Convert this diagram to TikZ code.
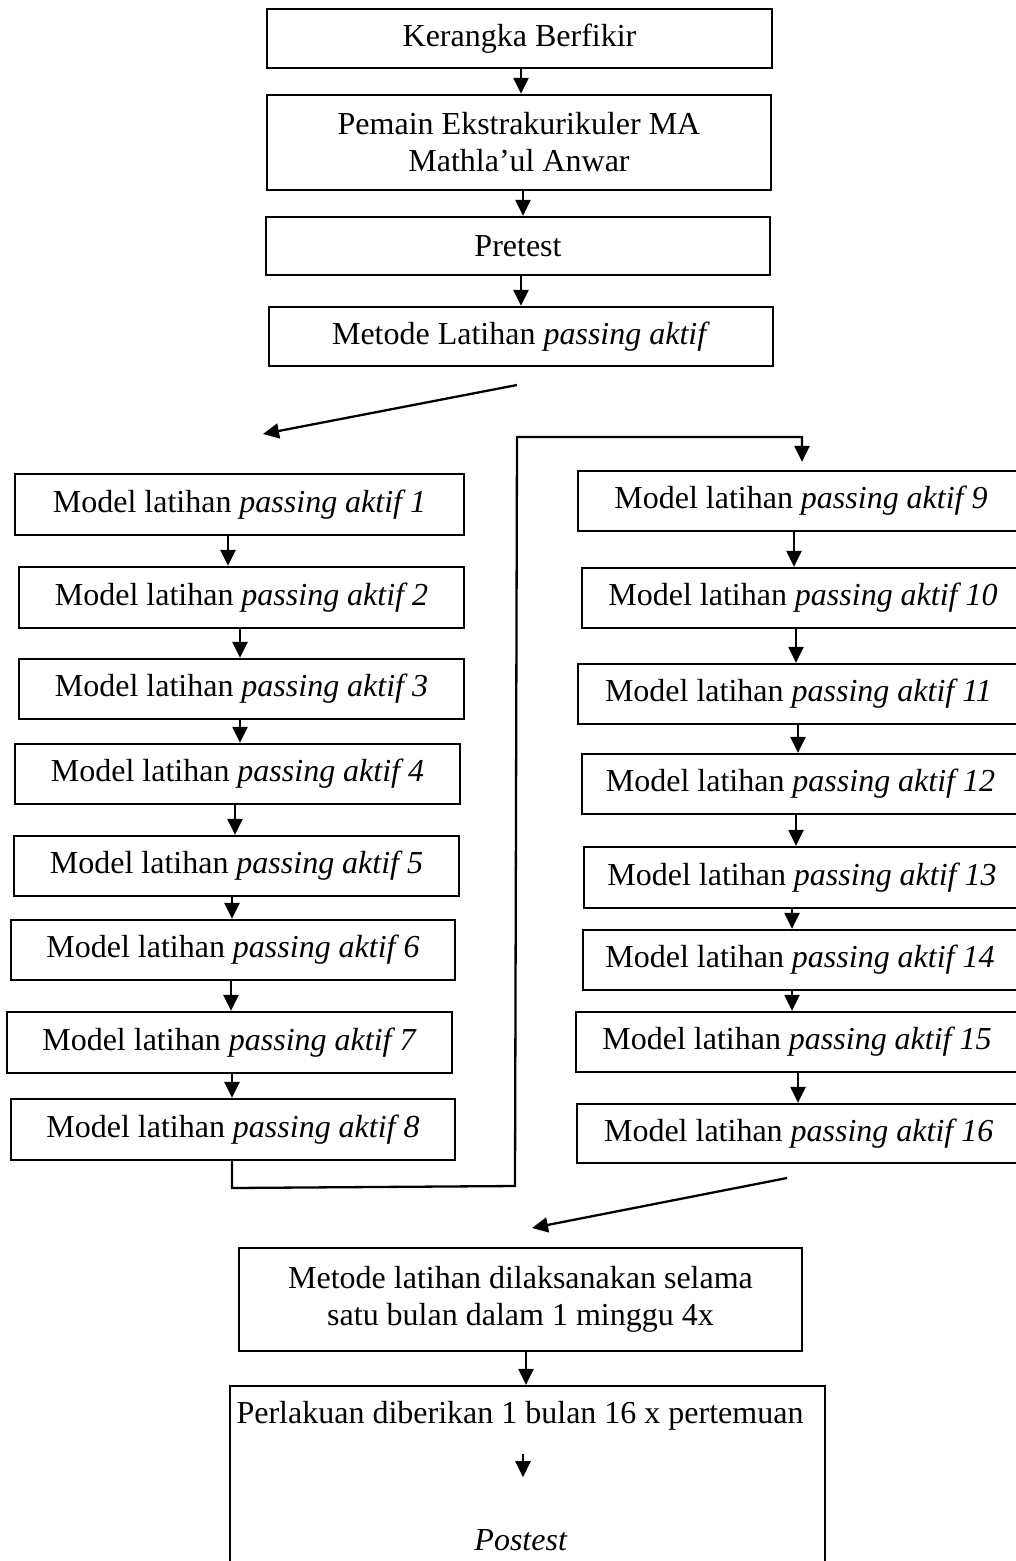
\documentclass[tikz,border=0pt]{standalone}
\usepackage{fontspec}
\setmainfont{Liberation Serif}
\usetikzlibrary{arrows.meta}

\begin{document}
\begin{tikzpicture}
[x=1pt,y=-1pt,line width=2.3pt,
 >={Triangle[length=16pt,width=15pt]},
 kotak/.style={draw,rectangle,inner sep=0pt,align=center,font=\fontsize{32}{37}\selectfont},
 teks/.style={inner sep=0pt,font=\fontsize{32}{37}\selectfont}]

\useasboundingbox (0,0) rectangle (1016,1561);
\clip (0,0) rectangle (1016,1561);

\node[kotak,minimum width=505,minimum height=59] (kerangka) at (519.5,38.5) {Kerangka Berfikir};
\node[kotak,minimum width=504,minimum height=95] (pemain) at (519,142.5) {Pemain Ekstrakurikuler MA\\Mathla’ul Anwar};
\node[kotak,minimum width=504,minimum height=58] (pretest) at (518,246) {Pretest};
\node[kotak,minimum width=504,minimum height=59] (metode) at (521,336.5) {Metode Latihan \textit{passing aktif}};

\draw[->] (kerangka.south -| 521,0) -- (pemain.north -| 521,0);
\draw[->] (pemain.south -| 523,0) -- (pretest.north -| 523,0);
\draw[->] (pretest.south -| 521,0) -- (metode.north -| 521,0);

\coordinate (kiri) at (263,434);
\coordinate (pisah) at (517,385);
\draw[->] (pisah) -- (kiri); %split

% left column
\foreach \n/\px/\py/\lb/\tg in {1/239.5/504.5/449/61, 2/241.5/597.5/445/61, 3/241.5/689/445/60,
  4/237.5/774/445/60, 5/236.5/866/445/60, 6/233/950/444/60, 7/229.5/1042.5/445/61, 8/233/1129.5/444/61}
  \node[kotak,minimum width=\lb,minimum height=\tg] (b\n) at (\px,\py) {Model latihan \textit{passing aktif \n}};

% right column
\foreach \n/\px/\py/\lb/\tg in {9/801/501/446/60, 10/803/598/442/60, 11/798.5/694/441/60, 12/800.5/784/437/60,
  13/802/877.5/436/61, 14/800/960/434/60, 15/797/1042/442/60, 16/798.7/1133.5/443/59}
  \node[kotak,minimum width=\lb,minimum height=\tg] (b\n) at (\px,\py) {Model latihan \textit{passing aktif \n}};

\foreach \a/\b/\x in {1/2/228, 2/3/240, 3/4/240, 4/5/235, 5/6/232, 6/7/231, 7/8/232,
  9/10/794, 10/11/796, 11/12/798, 12/13/796, 13/14/792, 14/15/792, 15/16/798}
  \draw[->] (b\a.south -| \x,0) -- (b\b.north -| \x,0);

\draw[->,shorten >=8pt] (b8.south -| 232,0) -- (232,1188) -- (515,1186) -- (517,437) -- (802,437) -- (b9.north -| 802,0); %loop

\coordinate (tengah) at (532,1228);
\coordinate (gabung) at (787,1178);
\draw[->] (gabung) -- (tengah); %join

\node[kotak,minimum width=563,minimum height=103] (dilaksanakan) at (520.5,1299.5) {Metode latihan dilaksanakan selama\\satu bulan dalam 1 minggu 4x};
\node[kotak,minimum width=595,minimum height=240] (akhir) at (527.5,1506) {};
\draw[->] (dilaksanakan.south -| 526,0) -- (akhir.north -| 526,0);

\node[teks] (perlakuan) at (520,1416) {Perlakuan diberikan 1 bulan 16 x pertemuan};
\node[teks] (postest) at (521,1540) {\textit{Postest}};
\draw[->,shorten <=22pt,shorten >=51pt] (perlakuan.south -| 523,0) -- (postest.north -| 523,0);

\end{tikzpicture}
\end{document}
